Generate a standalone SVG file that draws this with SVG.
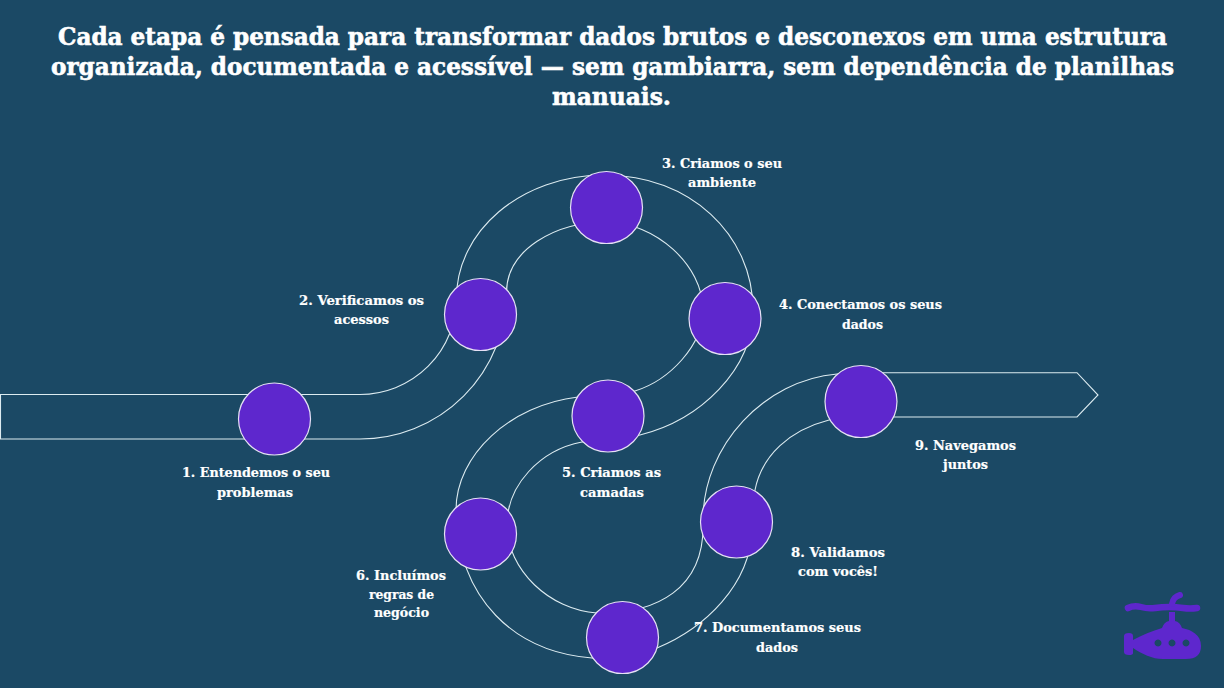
<svg xmlns="http://www.w3.org/2000/svg" width="1224" height="688" viewBox="0 0 1224 688">
<style>
.bg{fill:#1b4965}
.edge{fill:none;stroke:#dcebf0;stroke-width:1.1}
.dot{fill:#5e27cd;stroke:#e6e0f5;stroke-width:1.2}
text{font-family:"DejaVu Serif","Liberation Serif",serif;font-weight:700;fill:#fff;text-anchor:middle}
.t{font-size:24px;stroke:#fff;stroke-width:.6px}
.l{font-size:13px;stroke:#fff;stroke-width:.2px}
.sub{fill:#5e27cd}
</style>
<rect class="bg" width="1224" height="688"/>
<g id="title">
<text class="t" x="612.5" y="45" textLength="1109" lengthAdjust="spacingAndGlyphs">Cada etapa é pensada para transformar dados brutos e desconexos em uma estrutura</text>
<text class="t" x="612.5" y="75" textLength="1123" lengthAdjust="spacingAndGlyphs">organizada, documentada e acessível — sem gambiarra, sem dependência de planilhas</text>
<text class="t" x="611.5" y="105" textLength="119" lengthAdjust="spacingAndGlyphs">manuais.</text>
</g>
<g id="connectors">
<path class="edge" d="M0.5 394.5H360A96.5 96.5 0 0 0 456.5 298C456.5 232 520 175 605 175C690 175 753 235 753 310C753 370 700 420 640 435C620 440 600 439 582 442C540 450 507 485 507 525C507 570 550 610 597 613C655 614 706 590 703 520C703 445 765 380 837 374Q860 372.7 880 372.7H1077L1098 395L1077 417H870Q850 417 829 420C790 430 762 455 755 490L752 530C750 585 705 628 657 648C638 657 615 661 592 658C515 652 458 600 456 510C456 455 510 405 578 397C598 394 615 397 635 391C670 380 703 345 703 310C703 265 655 222 606 222C555 222 506.5 250 506.5 292.5A146.5 146.5 0 0 1 360 439H0.5Z"/>
</g>
<g id="node-1"><circle class="dot" cx="274.500" cy="419" r="36"/><text class="l" x="256" y="477" textLength="148" lengthAdjust="spacingAndGlyphs">1. Entendemos o seu</text><text class="l" x="255" y="497" textLength="76" lengthAdjust="spacingAndGlyphs">problemas</text></g>
<g id="node-2"><circle class="dot" cx="480.500" cy="314.500" r="36"/><text class="l" x="361.500" y="305" textLength="125" lengthAdjust="spacingAndGlyphs">2. Verificamos os</text><text class="l" x="361.500" y="324" textLength="55" lengthAdjust="spacingAndGlyphs">acessos</text></g>
<g id="node-3"><circle class="dot" cx="606.500" cy="207.500" r="36"/><text class="l" x="722" y="168" textLength="120" lengthAdjust="spacingAndGlyphs">3. Criamos o seu</text><text class="l" x="722" y="187" textLength="68" lengthAdjust="spacingAndGlyphs">ambiente</text></g>
<g id="node-4"><circle class="dot" cx="725" cy="318.500" r="36"/><text class="l" x="860.500" y="309" textLength="163" lengthAdjust="spacingAndGlyphs">4. Conectamos os seus</text><text class="l" x="862.500" y="329" textLength="41" lengthAdjust="spacingAndGlyphs">dados</text></g>
<g id="node-5"><circle class="dot" cx="608" cy="416" r="36"/><text class="l" x="611.500" y="477" textLength="99" lengthAdjust="spacingAndGlyphs">5. Criamos as</text><text class="l" x="612" y="497" textLength="64" lengthAdjust="spacingAndGlyphs">camadas</text></g>
<g id="node-6"><circle class="dot" cx="480.500" cy="534" r="36"/><text class="l" x="401" y="580" textLength="90" lengthAdjust="spacingAndGlyphs">6. Incluímos</text><text class="l" x="401.500" y="599" textLength="65" lengthAdjust="spacingAndGlyphs">regras de</text><text class="l" x="401.500" y="617" textLength="55" lengthAdjust="spacingAndGlyphs">negócio</text></g>
<g id="node-7"><circle class="dot" cx="622.500" cy="637.500" r="36"/><text class="l" x="777.500" y="632" textLength="167" lengthAdjust="spacingAndGlyphs">7. Documentamos seus</text><text class="l" x="777" y="652" textLength="42" lengthAdjust="spacingAndGlyphs">dados</text></g>
<g id="node-8"><circle class="dot" cx="736.500" cy="522" r="36"/><text class="l" x="838" y="557" textLength="94" lengthAdjust="spacingAndGlyphs">8. Validamos</text><text class="l" x="838" y="576" textLength="80" lengthAdjust="spacingAndGlyphs">com vocês!</text></g>
<g id="node-9"><circle class="dot" cx="861" cy="401.500" r="36"/><text class="l" x="965.500" y="450" textLength="101" lengthAdjust="spacingAndGlyphs">9. Navegamos</text><text class="l" x="965.500" y="469" textLength="45" lengthAdjust="spacingAndGlyphs">juntos</text></g>
<g id="submarine">
<path d="M1128 608Q1134 605 1141 607T1155 608T1169 607T1183 608T1197 608" fill="none" stroke="#5e27cd" stroke-width="6.500" stroke-linecap="round"/>
<path d="M1172 604Q1173 597 1180 595" fill="none" stroke="#5e27cd" stroke-width="6" stroke-linecap="round"/>
<path fill-rule="evenodd" class="sub" d="M1169 612H1175V621Q1180 622 1182 628C1192 630 1201 635 1201 646Q1201 659 1186 659H1163C1152 659 1142 654 1133 648V653Q1133 655 1129 655Q1124 655 1124 652V636Q1124 633 1129 633Q1133 633 1133 636V640C1142 635 1152 631 1162 628Q1164 622 1169 621ZM1158 639.500a3.500 3.500 0 1 0 .01 0ZM1172 639.500a3.500 3.500 0 1 0 .01 0ZM1186 639.500a3.500 3.500 0 1 0 .01 0Z"/>
</g>
</svg>
